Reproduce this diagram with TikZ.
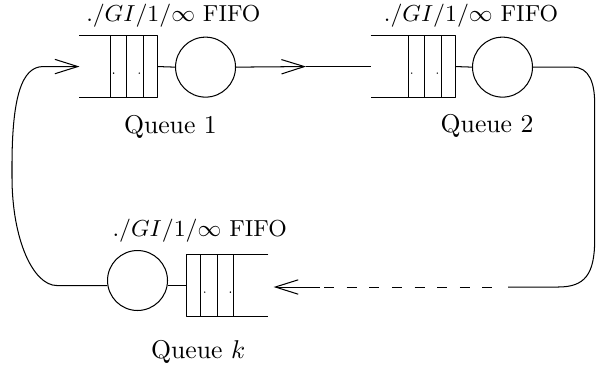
\documentclass[tikz,border=0pt]{standalone}
\usetikzlibrary{arrows.meta}
\begin{document}
\begin{tikzpicture}[>={Straight Barb[length=8.9pt,width=5.6pt]}, line join=round,
  server/.style={draw,circle,minimum size=0.82cm,inner sep=0pt},
  buffer/.style={minimum height=0.834cm,inner sep=0pt},
  qlabel/.style={font=\small}]
\useasboundingbox (0,0) rectangle (8.148,5.018);
\node[buffer,minimum width=1.053cm] (b1) at (1.620,4.108) {};
\node[server] (s1) at (2.81,4.10) {};
\node[buffer,minimum width=1.149cm] (b2) at (5.647,4.108) {};
\node[server] (s2) at (6.87,4.10) {};
\node[server] (sk) at (1.880,1.183) {};
\node[buffer,minimum width=1.107cm] (bk) at (3.110,1.114) {};
\foreach \b in {b1,b2} {
  \draw (\b.north west) -- (\b.north east) -- (\b.south east) -- (\b.south west);
  \foreach \d in {0.19,0.42,0.64}
    \draw ([xshift=-\d cm]\b.north east) -- ([xshift=-\d cm]\b.south east);
  \foreach \d in {0.25,0.6}
    \fill ([xshift=-\d cm,yshift=-0.09cm]\b.east) circle (0.3pt);
}
\draw (bk.north east) -- (bk.north west) -- (bk.south west) -- (bk.south east);
\foreach \d in {0.19,0.42,0.64}
  \draw ([xshift=\d cm]bk.north west) -- ([xshift=\d cm]bk.south west);
\foreach \d in {0.25,0.6}
  \fill ([xshift=\d cm,yshift=-0.09cm]bk.west) circle (0.3pt);
\node[qlabel] (t1) at (2.37,4.80) {$./GI/1/\infty$ FIFO};
\node (n1) at (2.33,3.28) {Queue 1};
\node[qlabel] (t2) at (6.44,4.80) {$./GI/1/\infty$ FIFO};
\node (n2) at (6.66,3.30) {Queue 2};
\node[qlabel] (tk) at (2.73,1.86) {$./GI/1/\infty$ FIFO};
\node (nk) at (2.71,0.205) {Queue $k$};
\draw (b1.east) -- (s1.west);
\draw (b2.east) -- (s2.west);
\draw (sk.east |- bk.west) -- (bk.west);
\coordinate (m1) at (4.184,4.108);
\draw[->] (s1.east) -- (m1);
\draw (m1) -- (b2.west);
\coordinate (r1) at (6.945,1.094);
\coordinate (r2) at (4.43,1.094);
\coordinate (r3) at (6.74,1.094);
\coordinate (r4) at (4.375,1.094);
\draw (s2.east) -- (7.83,4.10) .. controls (8.06,4.10) and (8.13,3.88) .. (8.13,3.60)
  -- (8.13,1.74) .. controls (8.13,1.26) and (7.99,1.094) .. (7.63,1.094) -- (r1);
\draw[dash pattern=on 3.9pt off 4.9pt] (r2) -- (r3);
\draw[->,shorten >=2pt] (r4) -- (bk.east |- r4);
\draw[->] (sk.west |- bk.west) -- (0.78,1.114) .. controls (0.45,1.114) and (0.164,1.75) .. (0.164,2.6)
  -- (0.164,2.75) .. controls (0.164,3.7) and (0.3,4.108) .. (0.59,4.108) -- (b1.west);
\end{tikzpicture}
\end{document}
